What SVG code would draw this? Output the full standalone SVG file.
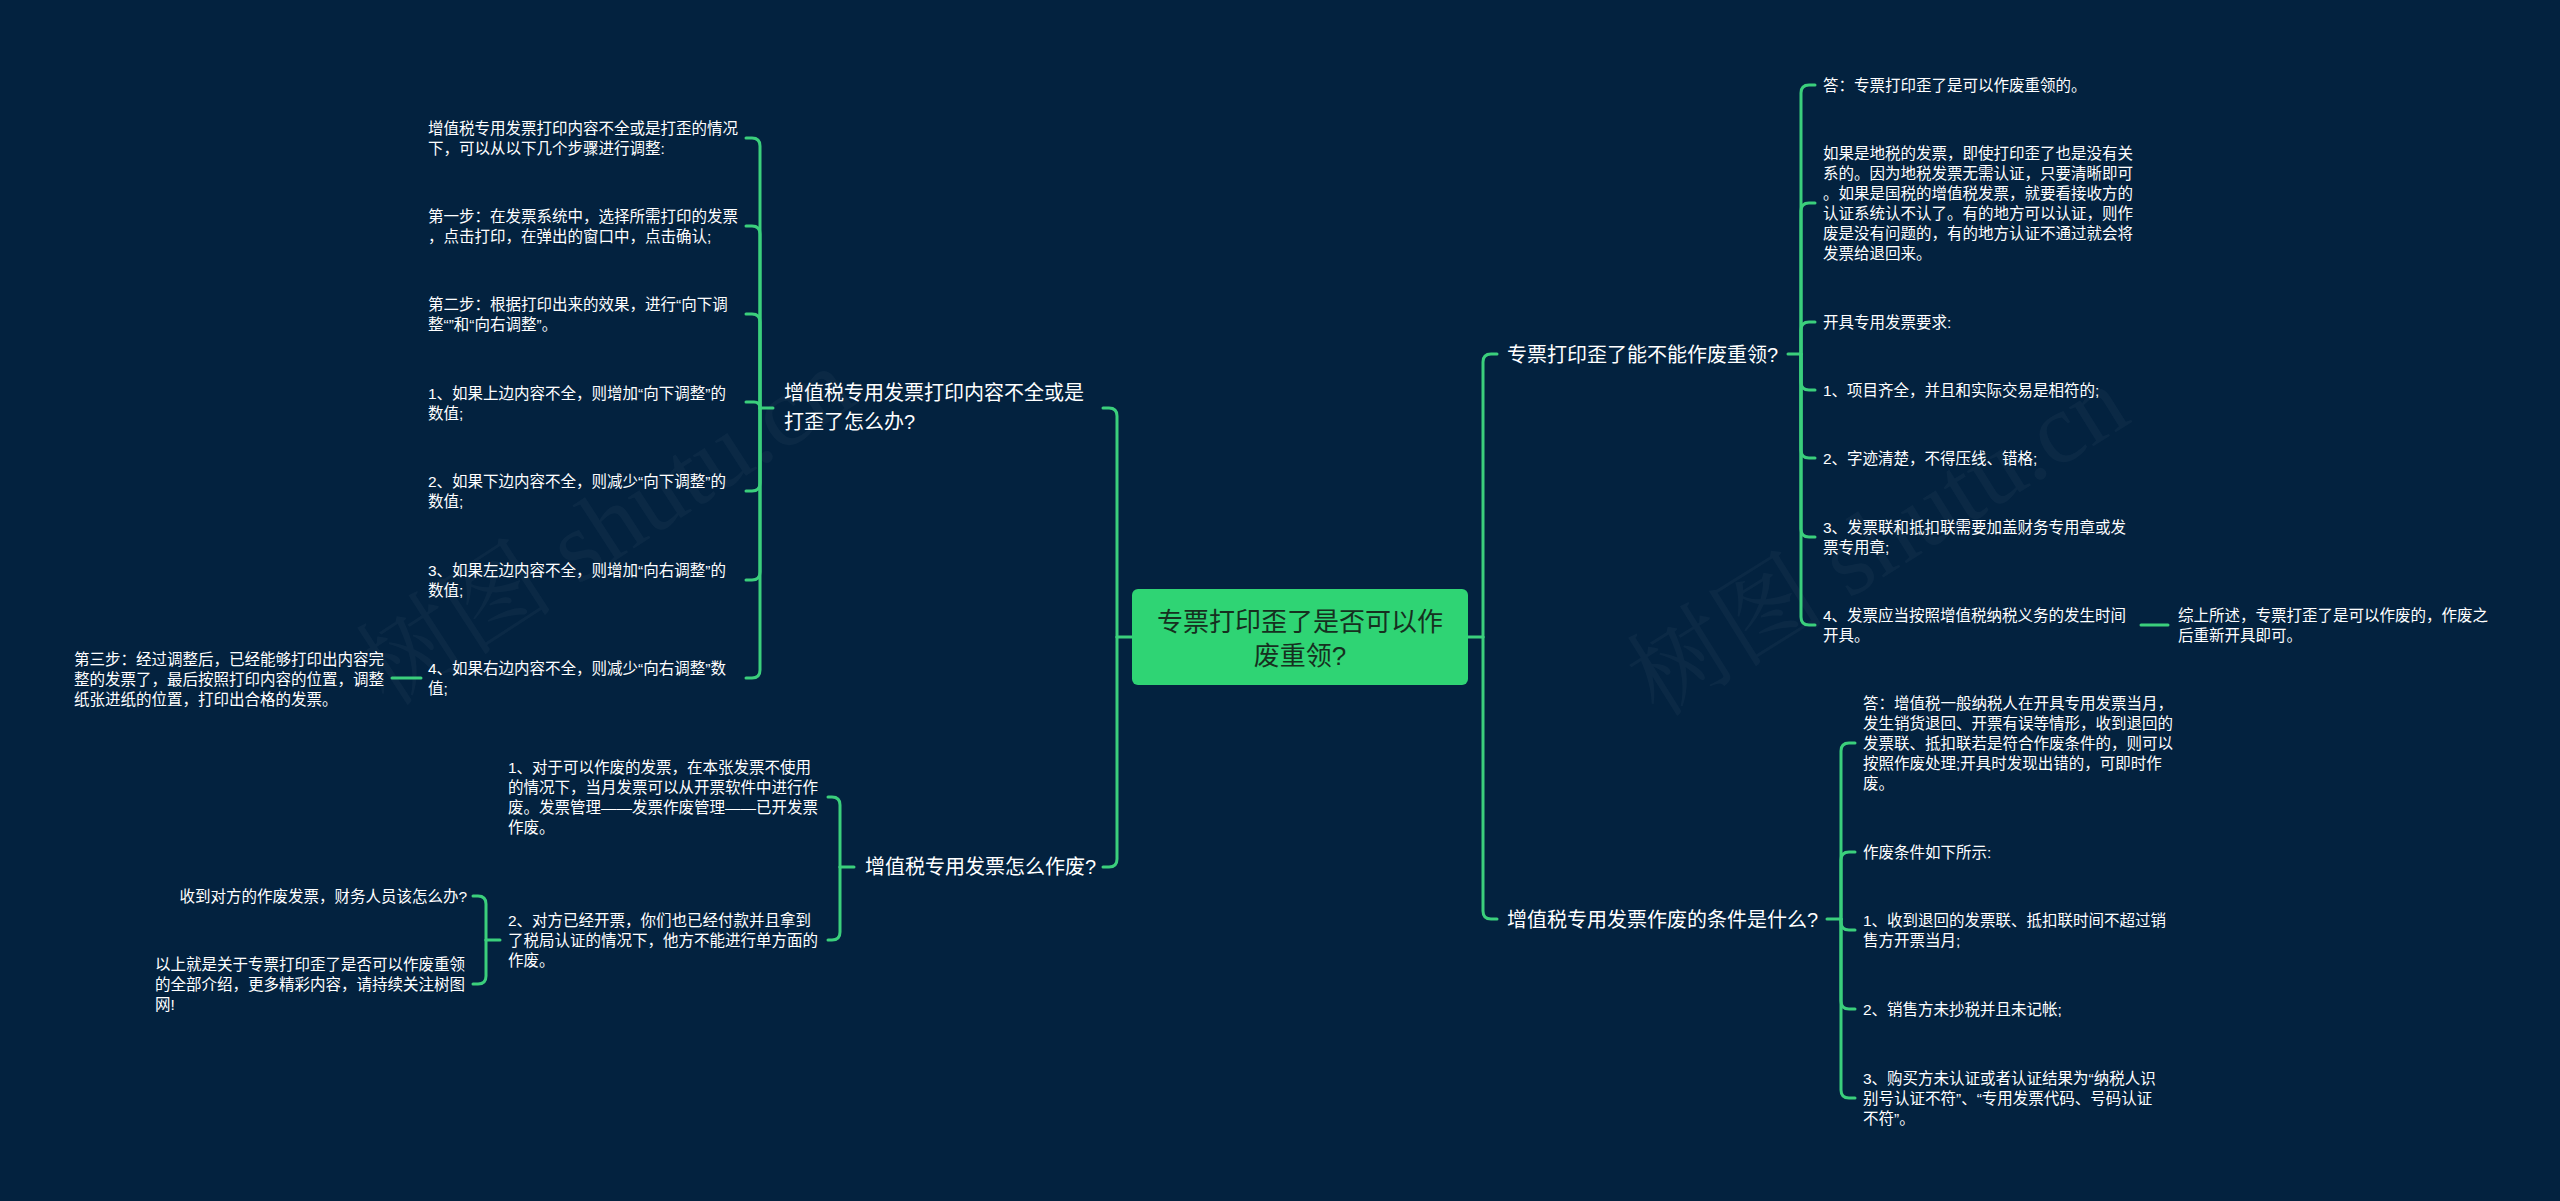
<svg xmlns="http://www.w3.org/2000/svg" width="2560" height="1201" viewBox="0 0 2560 1201">
<style>
text{font-family:"Liberation Sans","Noto Sans CJK SC",sans-serif;dominant-baseline:central;}
.c{font-size:15.5px;fill:#ffffff;}
.b{font-size:20px;fill:#ffffff;}
.r{font-size:26px;fill:#16301f;text-anchor:middle;}
.w{font-size:100px;fill:#ffffff;fill-opacity:0.035;font-family:"Liberation Serif","Noto Serif CJK SC","Noto Sans CJK SC",serif;}
#connectors path{fill:none;stroke:#3bcf7c;stroke-width:3;stroke-linecap:round;}
</style>
<rect x="0" y="0" width="2560" height="1201" fill="#03223f"/>
<text class="w" transform="translate(370 680) rotate(-33)">树图 shutu.cn</text>
<text class="w" transform="translate(1640 690) rotate(-32)">树图 shutu.cn</text>
<g id="connectors">
<path d="M1132 637 H1117"/>
<path d="M1117 637 V416 Q1117 408 1109 408 H1103"/>
<path d="M1117 637 V859 Q1117 867 1109 867 H1103"/>
<path d="M1468 637 H1483"/>
<path d="M1483 637 V362 Q1483 354 1491 354 H1497"/>
<path d="M1483 637 V911 Q1483 919 1491 919 H1497"/>
<path d="M773 408 H760"/>
<path d="M760 408 V146 Q760 138 752 138 H746"/>
<path d="M760 408 V234 Q760 226 752 226 H746"/>
<path d="M760 408 V322 Q760 314 752 314 H746"/>
<path d="M760 408 Q760 402 754 402 H746"/>
<path d="M760 408 V483 Q760 491 752 491 H746"/>
<path d="M760 408 V572 Q760 580 752 580 H746"/>
<path d="M760 408 V670 Q760 678 752 678 H746"/>
<path d="M421 678 H392"/>
<path d="M854 867 H840"/>
<path d="M840 867 V805 Q840 797 832 797 H828"/>
<path d="M840 867 V932 Q840 940 832 940 H828"/>
<path d="M500 940 H486"/>
<path d="M486 940 V904 Q486 896 478 896 H473"/>
<path d="M486 940 V976 Q486 984 478 984 H473"/>
<path d="M1788 354 H1801"/>
<path d="M1801 354 V93 Q1801 85 1809 85 H1815"/>
<path d="M1801 354 V211 Q1801 203 1809 203 H1815"/>
<path d="M1801 354 V330 Q1801 322 1809 322 H1815"/>
<path d="M1801 354 V382 Q1801 390 1809 390 H1815"/>
<path d="M1801 354 V450 Q1801 458 1809 458 H1815"/>
<path d="M1801 354 V529 Q1801 537 1809 537 H1815"/>
<path d="M1801 354 V617 Q1801 625 1809 625 H1815"/>
<path d="M2141 625 H2168"/>
<path d="M1827 919 H1841"/>
<path d="M1841 919 V751 Q1841 743 1849 743 H1855"/>
<path d="M1841 919 V860 Q1841 852 1849 852 H1855"/>
<path d="M1841 919 V922 Q1841 930 1849 930 H1855"/>
<path d="M1841 919 V1001 Q1841 1009 1849 1009 H1855"/>
<path d="M1841 919 V1090 Q1841 1098 1849 1098 H1855"/>
</g>
<g id="root">
<rect x="1132" y="589" width="336" height="96" rx="6" fill="#2fd474"/>
<text class="r" x="1300" y="622">专票打印歪了是否可以作</text>
<text class="r" x="1300" y="656">废重领?</text>
</g>
<g id="b1">
<text class="b" x="784" y="393">增值税专用发票打印内容不全或是</text>
<text class="b" x="784" y="422">打歪了怎么办?</text>
</g>
<g id="b1c1"><text class="c" x="428" y="128">增值税专用发票打印内容不全或是打歪的情况</text><text class="c" x="428" y="148">下，可以从以下几个步骤进行调整:</text></g>
<g id="b1c2"><text class="c" x="428" y="216">第一步：在发票系统中，选择所需打印的发票</text><text class="c" x="428" y="236">，点击打印，在弹出的窗口中，点击确认;</text></g>
<g id="b1c3"><text class="c" x="428" y="304">第二步：根据打印出来的效果，进行“向下调</text><text class="c" x="428" y="324">整“”和“向右调整”。</text></g>
<g id="b1c4"><text class="c" x="428" y="393">1、如果上边内容不全，则增加“向下调整”的</text><text class="c" x="428" y="413">数值;</text></g>
<g id="b1c5"><text class="c" x="428" y="481">2、如果下边内容不全，则减少“向下调整”的</text><text class="c" x="428" y="501">数值;</text></g>
<g id="b1c6"><text class="c" x="428" y="570">3、如果左边内容不全，则增加“向右调整”的</text><text class="c" x="428" y="590">数值;</text></g>
<g id="b1c7"><text class="c" x="428" y="668">4、如果右边内容不全，则减少“向右调整”数</text><text class="c" x="428" y="688">值;</text></g>
<g id="b1c7c1"><text class="c" x="74" y="659">第三步：经过调整后，已经能够打印出内容完</text><text class="c" x="74" y="679">整的发票了，最后按照打印内容的位置，调整</text><text class="c" x="74" y="699">纸张进纸的位置，打印出合格的发票。</text></g>
<g id="b2">
<text class="b" x="865" y="867">增值税专用发票怎么作废?</text>
</g>
<g id="b2c1"><text class="c" x="508" y="767">1、对于可以作废的发票，在本张发票不使用</text><text class="c" x="508" y="787">的情况下，当月发票可以从开票软件中进行作</text><text class="c" x="508" y="807">废。发票管理——发票作废管理——已开发票</text><text class="c" x="508" y="827">作废。</text></g>
<g id="b2c2"><text class="c" x="508" y="920">2、对方已经开票，你们也已经付款并且拿到</text><text class="c" x="508" y="940">了税局认证的情况下，他方不能进行单方面的</text><text class="c" x="508" y="960">作废。</text></g>
<g id="b2c2c1"><text class="c" x="467" y="896" text-anchor="end">收到对方的作废发票，财务人员该怎么办?</text></g>
<g id="b2c2c2"><text class="c" x="155" y="964">以上就是关于专票打印歪了是否可以作废重领</text><text class="c" x="155" y="984">的全部介绍，更多精彩内容，请持续关注树图</text><text class="c" x="155" y="1004">网!</text></g>
<g id="b3">
<text class="b" x="1507" y="355">专票打印歪了能不能作废重领?</text>
</g>
<g id="b3c1"><text class="c" x="1823" y="85">答：专票打印歪了是可以作废重领的。</text></g>
<g id="b3c2"><text class="c" x="1823" y="153">如果是地税的发票，即使打印歪了也是没有关</text><text class="c" x="1823" y="173">系的。因为地税发票无需认证，只要清晰即可</text><text class="c" x="1823" y="193">。如果是国税的增值税发票，就要看接收方的</text><text class="c" x="1823" y="213">认证系统认不认了。有的地方可以认证，则作</text><text class="c" x="1823" y="233">废是没有问题的，有的地方认证不通过就会将</text><text class="c" x="1823" y="253">发票给退回来。</text></g>
<g id="b3c3"><text class="c" x="1823" y="322">开具专用发票要求:</text></g>
<g id="b3c4"><text class="c" x="1823" y="390">1、项目齐全，并且和实际交易是相符的;</text></g>
<g id="b3c5"><text class="c" x="1823" y="458">2、字迹清楚，不得压线、错格;</text></g>
<g id="b3c6"><text class="c" x="1823" y="527">3、发票联和抵扣联需要加盖财务专用章或发</text><text class="c" x="1823" y="547">票专用章;</text></g>
<g id="b3c7"><text class="c" x="1823" y="615">4、发票应当按照增值税纳税义务的发生时间</text><text class="c" x="1823" y="635">开具。</text></g>
<g id="b3c7c1"><text class="c" x="2178" y="615">综上所述，专票打歪了是可以作废的，作废之</text><text class="c" x="2178" y="635">后重新开具即可。</text></g>
<g id="b4">
<text class="b" x="1507" y="920">增值税专用发票作废的条件是什么?</text>
</g>
<g id="b4c1"><text class="c" x="1863" y="703">答：增值税一般纳税人在开具专用发票当月，</text><text class="c" x="1863" y="723">发生销货退回、开票有误等情形，收到退回的</text><text class="c" x="1863" y="743">发票联、抵扣联若是符合作废条件的，则可以</text><text class="c" x="1863" y="763">按照作废处理;开具时发现出错的，可即时作</text><text class="c" x="1863" y="783">废。</text></g>
<g id="b4c2"><text class="c" x="1863" y="852">作废条件如下所示:</text></g>
<g id="b4c3"><text class="c" x="1863" y="920">1、收到退回的发票联、抵扣联时间不超过销</text><text class="c" x="1863" y="940">售方开票当月;</text></g>
<g id="b4c4"><text class="c" x="1863" y="1009">2、销售方未抄税并且未记帐;</text></g>
<g id="b4c5"><text class="c" x="1863" y="1078">3、购买方未认证或者认证结果为“纳税人识</text><text class="c" x="1863" y="1098">别号认证不符”、“专用发票代码、号码认证</text><text class="c" x="1863" y="1118">不符”。</text></g>
</svg>
